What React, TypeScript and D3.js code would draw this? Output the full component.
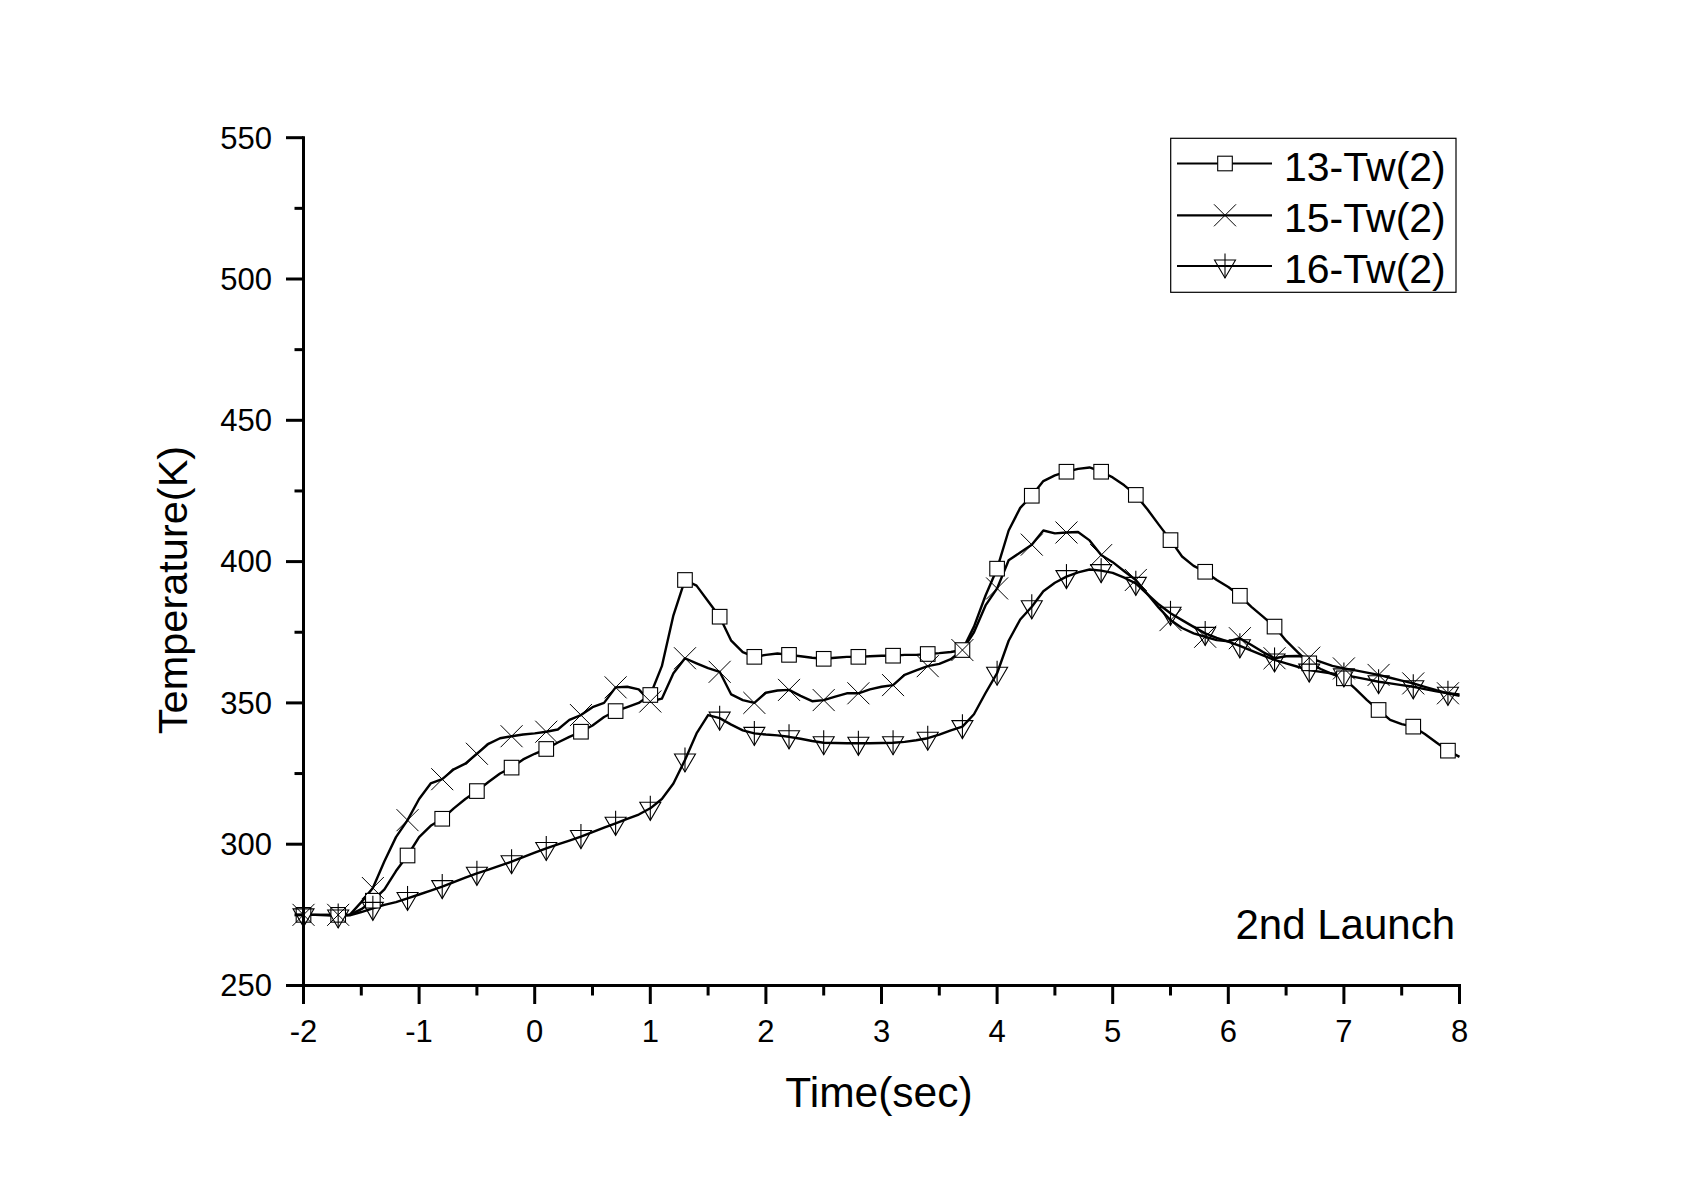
import React from "react";
import * as d3 from "d3";

const TIME: number[] = d3.range(0, 101).map((i) => Math.round((-2 + i * 0.1) * 10) / 10);

const S13: number[] = [
  275, 275, 275, 275, 275, 277, 280, 284, 290.5, 296,
  302.5, 306.5, 309, 312.7, 316, 318.8, 322, 325, 327.1, 330,
  332, 333.7, 336, 338, 339.8, 342, 345, 347.1, 348.5, 350,
  352.8, 363, 381, 393.5, 391.5, 386, 380.5, 372, 368, 366.3,
  367, 367.5, 367, 366.5, 366, 365.6, 366, 366.3, 366.3, 366.5,
  366.7, 366.7, 367, 367, 367.3, 367.6, 368, 368.7, 377, 388,
  397.5, 411, 419, 423.3, 428.5, 430.5, 431.8, 432.8, 433.3, 431.8,
  429.8, 427, 423.6, 418.5, 413, 407.6, 401.8, 398.5, 396.4, 393.5,
  391, 387.9, 384, 380.5, 377, 372, 368, 364, 362, 360.2,
  358.7, 355, 351, 347.5, 344, 342.5, 341.6, 339, 336, 333.1,
  330.9,
];

const S15: number[] = [
  275, 275, 275, 275, 275, 279.5, 284.5, 294, 302.5, 308.5,
  316, 321.5, 323, 326.5, 328.5, 332, 335.5, 337.5, 338.2, 338.8,
  339.2, 339.8, 340.6, 344, 345.7, 348.5, 350, 355.5, 355.7, 354.8,
  350.5, 351.5, 360.5, 365.8, 364, 362.3, 361, 353, 351, 350,
  353.6, 354.4, 354.6, 352.5, 350.6, 351, 352.2, 353.4, 353.4, 354.8,
  355.7, 356.3, 359.9, 361.5, 363, 363.8, 365.5, 368.7, 375, 384.5,
  390.5, 400.5, 403.2, 406, 411, 410, 410.3, 410.5, 407.5, 402.3,
  399.8, 396.6, 393.5, 388.5, 383.6, 379.3, 376.5, 374.6, 373.4, 372.2,
  371.8, 372.9, 370.5, 368, 365.8, 366.5, 366.6, 366, 364.5, 363.1,
  362.2, 361.5, 360.7, 359.9, 358.9, 357.9, 356.9, 355.7, 354.5, 353.4,
  352.5,
];

const S16: number[] = [
  275, 275, 274.8, 274.6, 274.8, 276, 277.3, 278.5, 279.5, 280.8,
  282.2, 283.6, 285, 286.6, 288.2, 289.7, 291, 292.4, 293.8, 295.4,
  297, 298.5, 299.9, 301.3, 302.7, 304.3, 305.9, 307.4, 309, 310.5,
  312.7, 316, 321.5, 329.8, 339.2, 345.7, 344.6, 342.3, 340.3, 339.2,
  338.8, 338.5, 338, 337.3, 336.5, 335.9, 335.8, 335.7, 335.7, 335.7,
  335.8, 335.9, 336.2, 336.8, 337.5, 338.8, 340.3, 341.6, 346, 353.5,
  360.5, 372, 379.5, 384, 389.5, 392.5, 394.7, 396.2, 397.2, 396.8,
  396, 394.3, 392.3, 388.5, 384.8, 381.7, 379.3, 376.9, 374.6, 373,
  371.7, 370.2, 368.5, 366.8, 365.2, 364, 362.8, 361.6, 361, 360.4,
  359.9, 359.1, 358.3, 357.5, 356.9, 356.3, 355.7, 354.9, 354.1, 353.4,
  353,
];

const SERIES_NAMES = ["13-Tw(2)", "15-Tw(2)", "16-Tw(2)"];
const MARKERS = ["square", "cross", "tri"];
const X_TICKS = [-2, -1, 0, 1, 2, 3, 4, 5, 6, 7, 8];
const Y_TICKS = [250, 300, 350, 400, 450, 500, 550];
const X_TITLE = "Time(sec)";
const Y_TITLE = "Temperature(K)";
const ANNOTATION = "2nd Launch";

const FONT = "'Liberation Sans', Arial, sans-serif";

function Marker({ type, cx, cy }: { type: string; cx: number; cy: number }) {
  if (type === "square") {
    const s = 7.3;
    return <rect x={cx - s} y={cy - s} width={2 * s} height={2 * s} fill="#fff" stroke="#000" strokeWidth={1.1} />;
  }
  if (type === "cross") {
    const s = 11;
    return (
      <path d={`M${cx - s},${cy - s}L${cx + s},${cy + s}M${cx - s},${cy + s}L${cx + s},${cy - s}`} stroke="#000" strokeWidth={1} fill="none" />
    );
  }
  const w = 10.5;
  return (
    <g fill="none" stroke="#000" strokeWidth={1.1}>
      <path d={`M${cx - w},${cy - 6}L${cx + w},${cy - 6}L${cx},${cy + 12}Z`} />
      <path d={`M${cx},${cy - 12.5}L${cx},${cy + 12}`} />
    </g>
  );
}

export default function App() {
  const x = d3.scaleLinear().domain([-2, 8]).range([303.5, 1459.5]);
  const y = d3.scaleLinear().domain([250, 550]).range([985.5, 137.7]);
  const series = [S13, S15, S16];
  const line = d3
    .line<number>()
    .x((_, i) => x(TIME[i]))
    .y((d) => y(d));

  const xMinor = d3.range(-1.5, 8, 1);
  const yMinor = d3.range(275, 550, 50);

  const legendX0 = 1177;
  const legendX1 = 1272;
  const legendRows = [163.5, 215.3, 266];

  return (
    <svg width={1695} height={1183} style={{ position: "absolute", left: 0, top: 0, display: "block", background: "#fff" }} fontFamily={FONT}>
      <rect x={0} y={0} width={1695} height={1183} fill="#fff" />
      {series.map((s, k) => (
        <path key={k} d={line(s) || ""} fill="none" stroke="#000" strokeWidth={2.4} strokeLinejoin="round" />
      ))}
      {series.map((s, k) =>
        s.map((v, i) =>
          i % 3 === 0 && i < 100 ? <Marker key={`${k}-${i}`} type={MARKERS[k]} cx={x(TIME[i])} cy={y(v)} /> : null
        )
      )}
      <g stroke="#000" strokeWidth={3} strokeLinecap="butt">
        <line x1={x(-2)} x2={x(-2)} y1={y(550) - 1.5} y2={y(250) + 1.5} />
        <line x1={x(-2) - 1.5} x2={x(8) + 1.5} y1={y(250)} y2={y(250)} />
        {X_TICKS.map((t) => (
          <line key={`xt${t}`} x1={x(t)} x2={x(t)} y1={y(250)} y2={y(250) + 18.5} />
        ))}
        {xMinor.map((t) => (
          <line key={`xm${t}`} x1={x(t)} x2={x(t)} y1={y(250)} y2={y(250) + 10} />
        ))}
        {Y_TICKS.map((v) => (
          <line key={`yt${v}`} x1={x(-2)} x2={x(-2) - 17.5} y1={y(v)} y2={y(v)} />
        ))}
        {yMinor.map((v) => (
          <line key={`ym${v}`} x1={x(-2)} x2={x(-2) - 9} y1={y(v)} y2={y(v)} />
        ))}
      </g>
      {X_TICKS.map((t) => (
        <text key={`xl${t}`} x={x(t)} y={1041.5} textAnchor="middle" fontSize={31} fill="#000">
          {t}
        </text>
      ))}
      {Y_TICKS.map((v) => (
        <text key={`yl${v}`} x={272} y={y(v) + 10.8} textAnchor="end" fontSize={31} fill="#000">
          {v}
        </text>
      ))}
      <text x={879} y={1107} textAnchor="middle" fontSize={42.5} fill="#000">
        {X_TITLE}
      </text>
      <text transform="translate(187,590) rotate(-90)" textAnchor="middle" fontSize={41.5} fill="#000">
        {Y_TITLE}
      </text>
      <text x={1455} y={938.5} textAnchor="end" fontSize={42} fill="#000">
        {ANNOTATION}
      </text>
      <rect x={1170.7} y={138.3} width={285.3} height={154} fill="#fff" stroke="#000" strokeWidth={1.2} />
      {SERIES_NAMES.map((name, k) => (
        <g key={name}>
          <line x1={legendX0} x2={legendX1} y1={legendRows[k]} y2={legendRows[k]} stroke="#000" strokeWidth={2.2} />
          <Marker type={MARKERS[k]} cx={(legendX0 + legendX1) / 2 + 0.5} cy={legendRows[k]} />
          <text x={1284} y={legendRows[k] + 17} fontSize={41} fill="#000">
            {name}
          </text>
        </g>
      ))}
    </svg>
  );
}
